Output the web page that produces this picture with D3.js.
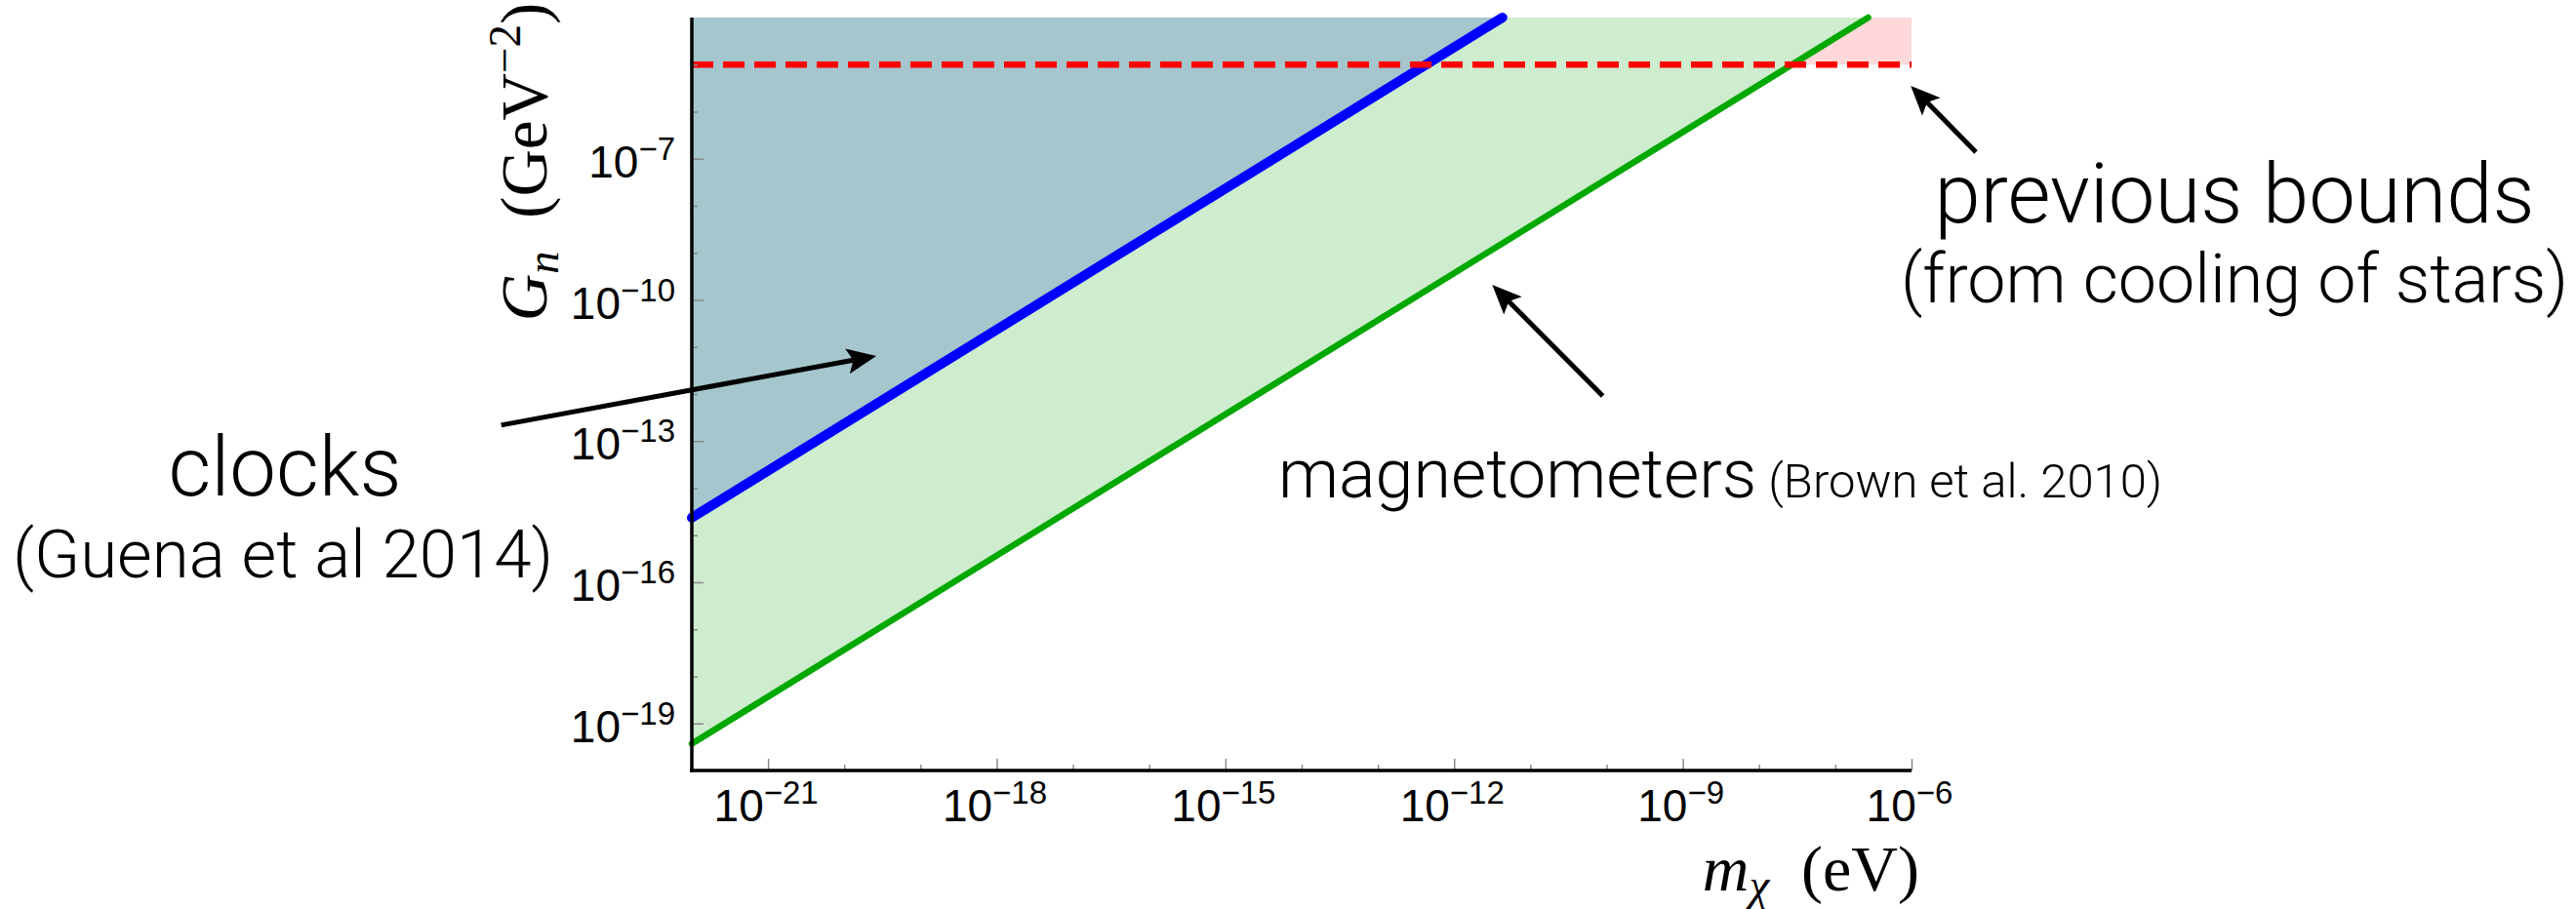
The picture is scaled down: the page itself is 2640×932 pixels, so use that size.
<!DOCTYPE html>
<html><head><meta charset="utf-8">
<script src="https://cdn.jsdelivr.net/npm/d3@7"></script>
<style>body{margin:0;background:#fff;} svg{display:block;}</style>
</head><body>
<svg id="c" width="2640" height="932"></svg>
<script>
// ---------------- data ----------------
const massDomain = [1e-22, 1e-6];          // m_chi (eV)
const couplingDomain = [1e-20, 1e-4];      // G_n (GeV^-2)
const xTickExponents = d3.range(-21, -5);  // every decade
const xLabelExponents = [-21, -18, -15, -12, -9, -6];
const yTickExponents = d3.range(-19, -4);
const yLabelExponents = [-19, -16, -13, -10, -7];
// bounds: [m, G]
const clocksBound = [[1e-22, 2.35e-15], [4.3e-12, 1e-4]];
const magnetometerBound = [[1e-22, 3.7e-20], [2.7e-7, 1e-4]];
const starCoolingBound = 1e-5;
// annotation arrows [tail, head] in data coords (log10 m, log10 G)
const arrowClocks = [[-24.5, -12.66], [-19.58, -11.19]];
const arrowMagnetometers = [[-10.05, -12.04], [-11.5, -9.68]];
const arrowPrevious = [[-5.155, -6.86], [-6.01, -5.45]];

// ---------------- layout ----------------
const L = 709, R = 1959, T = 18, B = 790;
const svg = d3.select("#c");
const x = d3.scaleLog().domain(massDomain).range([L, R]);
const y = d3.scaleLog().domain(couplingDomain).range([B, T]);
const tickFont = "'Liberation Sans', Arial, sans-serif";
const annFont = "Roboto, 'Liberation Sans', sans-serif";
const mathFont = "'Liberation Serif', 'Times New Roman', serif";

// regions
svg.append("rect").attr("x", x(massDomain[0])).attr("y", y(couplingDomain[1]))
  .attr("width", x(massDomain[1]) - x(massDomain[0]))
  .attr("height", y(starCoolingBound) - y(couplingDomain[1]))
  .attr("fill", "#ffd9d9");
const line = d3.line().x(d => x(d[0])).y(d => y(d[1]));
const area = pts => line(pts) + "Z";
svg.append("path").attr("d", area([...magnetometerBound, [massDomain[0], couplingDomain[1]]]))
  .attr("fill", "#ceecce");
svg.append("path").attr("d", area([...clocksBound, [massDomain[0], couplingDomain[1]]]))
  .attr("fill", "#a4c6cc");

svg.append("path").attr("d", line(magnetometerBound)).attr("fill", "none")
  .attr("stroke", "#00a800").attr("stroke-width", 6.5).attr("stroke-linecap", "round");
svg.append("path").attr("d", line(clocksBound)).attr("fill", "none")
  .attr("stroke", "#0000ff").attr("stroke-width", 10).attr("stroke-linecap", "round");
svg.append("line").attr("x1", x(massDomain[0])).attr("x2", x(massDomain[1]))
  .attr("y1", y(starCoolingBound)).attr("y2", y(starCoolingBound))
  .attr("stroke", "#ff0000").attr("stroke-width", 6.5).attr("stroke-dasharray", "22,10");

// ticks through d3 axes
function tickAxis(gen, vals, len, transform) {
  const g = svg.append("g").attr("transform", transform)
    .call(gen.tickValues(vals).tickSize(len).tickFormat(""));
  g.select(".domain").remove();
  g.selectAll(".tick line").attr("stroke", "#8a8a8a").attr("stroke-width", 1.5);
  return g;
}
const xMajor = xLabelExponents.map(e => Math.pow(10, e));
const xMinor = xTickExponents.filter(e => !xLabelExponents.includes(e)).map(e => Math.pow(10, e));
const yMajor = yLabelExponents.map(e => Math.pow(10, e));
const yMinor = yTickExponents.filter(e => !yLabelExponents.includes(e)).map(e => Math.pow(10, e));
tickAxis(d3.axisTop(x), xMajor, 12, `translate(0,${B})`);
tickAxis(d3.axisTop(x), xMinor, 6, `translate(0,${B})`);
tickAxis(d3.axisRight(y), yMajor, 12, `translate(${L},0)`);
tickAxis(d3.axisRight(y), yMinor, 6, `translate(${L},0)`);

// axis lines
svg.append("line").attr("x1", L).attr("x2", L).attr("y1", T).attr("y2", B + 1.75)
  .attr("stroke", "#000").attr("stroke-width", 3.5);
svg.append("line").attr("x1", L - 1.75).attr("x2", R).attr("y1", B).attr("y2", B)
  .attr("stroke", "#000").attr("stroke-width", 3.5);

// tick labels
function powLabel(sel, e) {
  sel.append("tspan").text("10");
  sel.append("tspan").attr("font-size", 33).attr("dy", -18).text("\u2212" + Math.abs(e));
}
xLabelExponents.forEach(e => {
  const t = svg.append("text").attr("x", x(Math.pow(10, e)) - 2).attr("y", B + 52)
    .attr("text-anchor", "middle").attr("font-family", tickFont).attr("font-size", 46);
  powLabel(t, e);
});
yLabelExponents.forEach(e => {
  const t = svg.append("text").attr("x", L - 17).attr("y", y(Math.pow(10, e)) + 19)
    .attr("text-anchor", "end").attr("font-family", tickFont).attr("font-size", 46);
  powLabel(t, e);
});

// axis titles
const yt = svg.append("text").attr("transform", `translate(560,166) rotate(-90)`)
  .attr("text-anchor", "middle").attr("font-family", mathFont).attr("font-size", 67);
yt.append("tspan").attr("font-style", "italic").text("G");
yt.append("tspan").attr("font-style", "italic").attr("font-size", 47).attr("dy", 12).text("n");
yt.append("tspan").attr("dy", -12).text("\u2002(GeV");
yt.append("tspan").attr("font-size", 47).attr("dy", -27).text("\u22122");
yt.append("tspan").attr("dy", 27).text(")");

const xt = svg.append("text").attr("x", 1967).attr("y", 913)
  .attr("text-anchor", "end").attr("font-family", mathFont).attr("font-size", 66);
xt.append("tspan").attr("font-style", "italic").text("m");
xt.append("tspan").attr("font-style", "italic").attr("font-size", 47).attr("dy", 10).text("\u03c7");
xt.append("tspan").attr("dy", -10).text("\u2002(eV)");

// annotations
function arrow(a) {
  const tx = x(Math.pow(10, a[0][0])), ty = y(Math.pow(10, a[0][1]));
  const hx = x(Math.pow(10, a[1][0])), hy = y(Math.pow(10, a[1][1]));
  const dx = hx - tx, dy = hy - ty, len = Math.hypot(dx, dy);
  const ux = dx / len, uy = dy / len, px = -uy, py = ux;
  const HL = 30, HW = 13;
  svg.append("line").attr("x1", tx).attr("y1", ty)
    .attr("x2", hx - ux * HL * 0.8).attr("y2", hy - uy * HL * 0.8)
    .attr("stroke", "#000").attr("stroke-width", 5);
  svg.append("path").attr("d", `M${hx},${hy}L${hx - ux * HL + px * HW},${hy - uy * HL + py * HW}` +
    `L${hx - ux * HL * 0.8},${hy - uy * HL * 0.8}L${hx - ux * HL - px * HW},${hy - uy * HL - py * HW}Z`)
    .attr("fill", "#000");
}
[arrowClocks, arrowMagnetometers, arrowPrevious].forEach(arrow);

function ann(txt, cx, by, size, anchor) {
  return svg.append("text").attr("x", cx).attr("y", by).attr("text-anchor", anchor || "middle")
    .attr("font-family", annFont).attr("font-weight", 300).attr("font-size", size).text(txt);
}
ann("clocks", 292, 508, 85);
ann("(Guena et al 2014)", 290, 592, 69);
const mg = ann("magnetometers", 1310, 510, 70, "start");
mg.append("tspan").attr("font-size", 49).text(" (Brown et al. 2010)");
ann("previous bounds", 2290, 228, 85);
ann("(from cooling of stars)", 2290, 310, 70);
</script>
</body></html>
